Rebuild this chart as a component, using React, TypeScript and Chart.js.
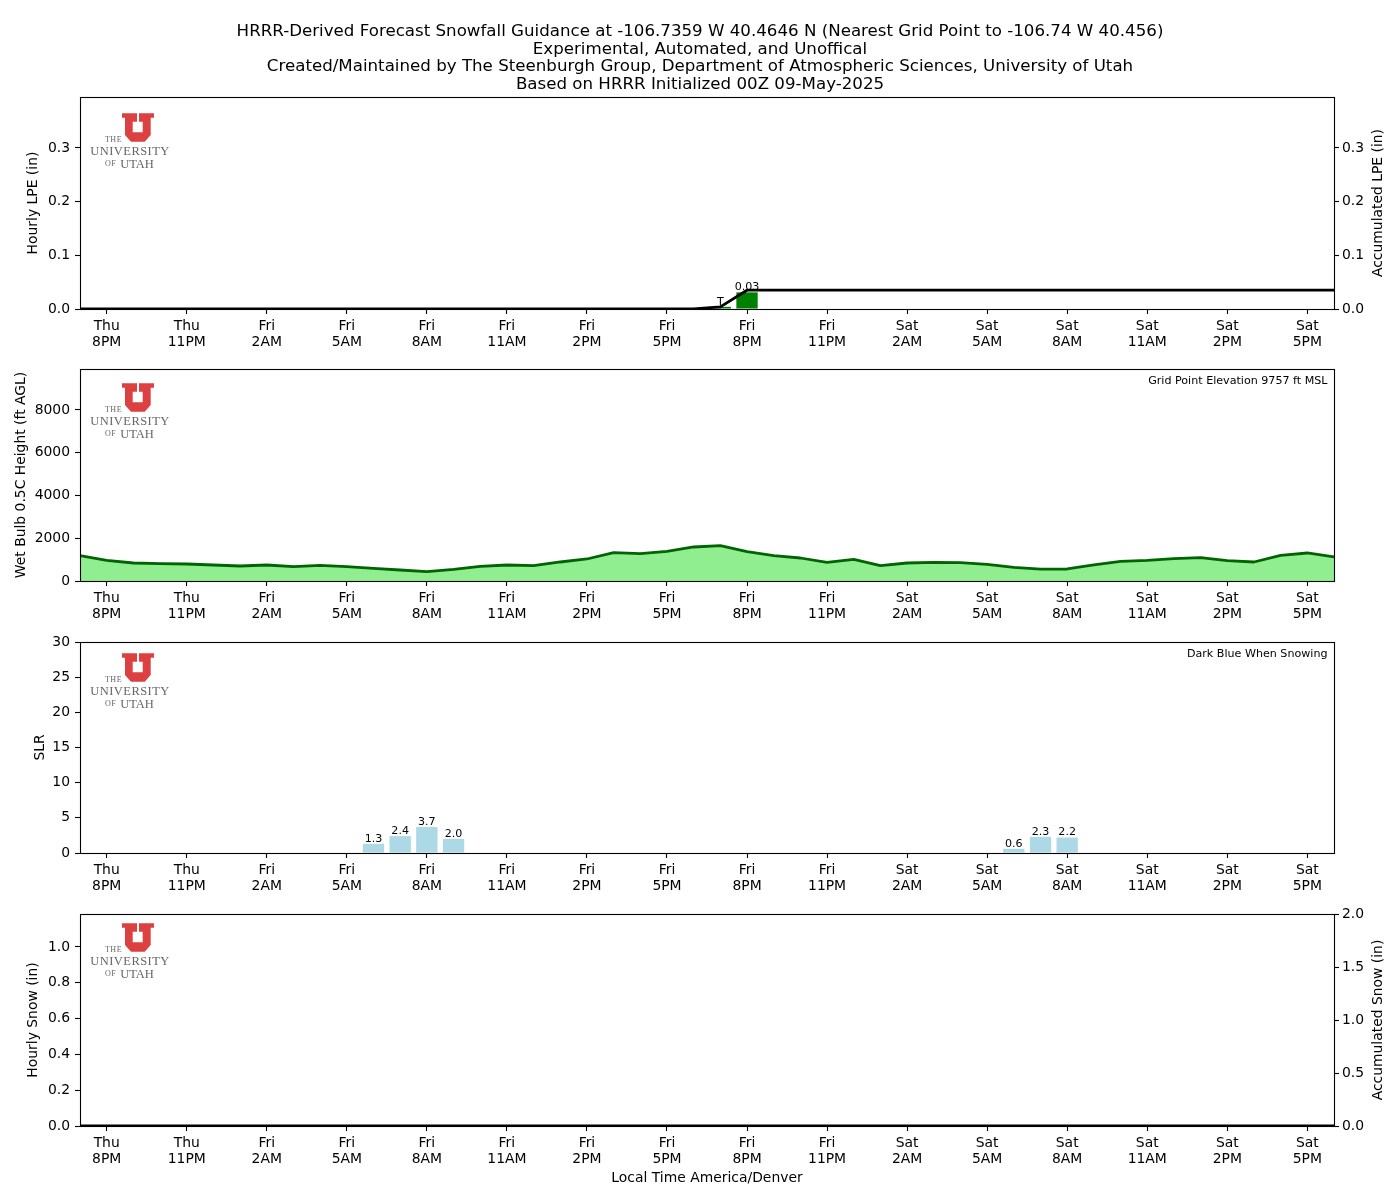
import React, { useEffect, useRef } from "react";
import { Chart, registerables } from "chart.js";

Chart.register(...registerables);

const hours = Array.from({ length: 48 }, (_, i) => i - 1);
const tickHours = [0, 3, 6, 9, 12, 15, 18, 21, 24, 27, 30, 33, 36, 39, 42, 45];
const tickDays = ["Thu", "Thu", "Fri", "Fri", "Fri", "Fri", "Fri", "Fri", "Fri", "Fri", "Sat", "Sat", "Sat", "Sat", "Sat", "Sat"];
const tickTimes = ["8PM", "11PM", "2AM", "5AM", "8AM", "11AM", "2PM", "5PM", "8PM", "11PM", "2AM", "5AM", "8AM", "11AM", "2PM", "5PM"];

const titleLines = [
  "HRRR-Derived Forecast Snowfall Guidance at -106.7359 W 40.4646 N (Nearest Grid Point to -106.74 W 40.456)",
  "Experimental, Automated, and Unoffical",
  "Created/Maintained by The Steenburgh Group, Department of Atmospheric Sciences, University of Utah",
  "Based on HRRR Initialized 00Z 09-May-2025",
];

const hourlyLpe = [0,0,0,0,0,0,0,0,0,0,0,0,0,0,0,0,0,0,0,0,0,0,0,0,0.004,0.031,0,0,0,0,0,0,0,0,0,0,0,0,0,0,0,0,0,0,0,0,0,0];
const accumLpe = [0,0,0,0,0,0,0,0,0,0,0,0,0,0,0,0,0,0,0,0,0,0,0,0,0.004,0.035,0.035,0.035,0.035,0.035,0.035,0.035,0.035,0.035,0.035,0.035,0.035,0.035,0.035,0.035,0.035,0.035,0.035,0.035,0.035,0.035,0.035,0.035];
const wetBulbHeight = [1185,967,842,811,795,749,702,749,670,733,670,590,515,440,546,686,749,717,889,1030,1326,1279,1385,1591,1654,1370,1190,1076,874,1014,718,842,874,858,780,640,560,562,749,920,967,1045,1092,952,889,1201,1310,1123];
const slr = [0,0,0,0,0,0,0,0,0,0,0,1.3,2.4,3.7,2.0,0,0,0,0,0,0,0,0,0,0,0,0,0,0,0,0,0,0,0,0,0.6,2.3,2.2,0,0,0,0,0,0,0,0,0,0];
const hourlySnow = new Array(48).fill(0) as number[];
const accumSnow = new Array(48).fill(0) as number[];

const lpeTicks = [0, 0.1, 0.2, 0.3];
const heightTicks = [0, 2000, 4000, 6000, 8000];
const slrTicks = [0, 5, 10, 15, 20, 25, 30];
const snowTicks = [0, 0.2, 0.4, 0.6, 0.8, 1.0];
const accumSnowTicks = [0, 0.5, 1.0, 1.5, 2.0];

const FONT = "'DejaVu Sans'";
const TICK_PX = 13.9;
const SMALL_PX = 11.11;
const NOTE_PX = 11.11;

const panelPlugin = {
  id: "panelExtras",
  afterDatasetsDraw(chart: any, _a: any, opts: any) {
    const { ctx, chartArea: ca } = chart;
    ctx.save();
    // bar value labels
    chart.data.datasets.forEach((ds: any, i: number) => {
      if (!ds.valueLabel) return;
      const meta = chart.getDatasetMeta(i);
      meta.data.forEach((el: any, j: number) => {
        const v = ds.data[j];
        if (!v) return;
        ctx.font = `${SMALL_PX}px ${FONT}`;
        ctx.fillStyle = "#000";
        ctx.textAlign = "center";
        ctx.textBaseline = "alphabetic";
        ctx.fillText(ds.valueLabel(v), el.x, el.y - 2.2);
      });
    });
    // frame
    ctx.strokeStyle = "#000";
    ctx.lineWidth = 1.1;
    const fl = Math.round(ca.left) + 0.5;
    const ft = Math.round(ca.top) + 0.5;
    const fr = Math.round(ca.right) + 0.5;
    const fb = Math.round(ca.bottom) + 0.5;
    ctx.strokeRect(fl, ft, fr - fl, fb - ft);
    // corner note
    if (opts.note) {
      ctx.font = `${NOTE_PX}px ${FONT}`;
      ctx.fillStyle = "#000";
      ctx.textAlign = "right";
      ctx.textBaseline = "middle";
      ctx.fillText(opts.note, ca.right - 6.5, ca.top + 12);
    }
    // right axis label, reads bottom to top
    if (opts.rightTitle) {
      ctx.save();
      ctx.translate(1378, (ca.top + ca.bottom) / 2);
      ctx.rotate(-Math.PI / 2);
      ctx.font = `${TICK_PX}px ${FONT}`;
      ctx.fillStyle = "#000";
      ctx.textAlign = "center";
      ctx.textBaseline = "middle";
      ctx.fillText(opts.rightTitle, 0, 0);
      ctx.restore();
    }
    // University of Utah logo
    const ox = ca.left;
    const oy = ca.top + (opts.logoShift || 0);
    ctx.fillStyle = "#DC4040";
    ctx.beginPath();
    const P = [
      [42, 16.3], [57, 16.3], [57, 24.7], [52.7, 24.7], [52.7, 35.3], [62.7, 35.3], [62.7, 24.7], [59, 24.7], [59, 16.3],
      [74, 16.3], [74, 20.7], [70.7, 20.7], [70.7, 38], [64.7, 44.7], [51, 44.7], [45, 38], [45, 20.7], [42, 20.7],
    ];
    P.forEach(([x, y], k) => (k ? ctx.lineTo(ox + x, oy + y) : ctx.moveTo(ox + x, oy + y)));
    ctx.closePath();
    ctx.fill();
    ctx.fillStyle = "#666";
    ctx.textAlign = "center";
    ctx.textBaseline = "middle";
    ctx.font = "8px 'Liberation Serif'";
    (ctx as any).letterSpacing = "0.5px";
    ctx.fillText("THE", ox + 33.5, oy + 42.7);
    ctx.font = "12.5px 'Liberation Serif'";
    (ctx as any).letterSpacing = "0.45px";
    ctx.fillText("UNIVERSITY", ox + 50, oy + 55);
    ctx.font = "8px 'Liberation Serif'";
    (ctx as any).letterSpacing = "0.3px";
    ctx.fillText("OF", ox + 30.5, oy + 67);
    ctx.font = "12.5px 'Liberation Serif'";
    (ctx as any).letterSpacing = "0px";
    ctx.fillText("UTAH", ox + 57, oy + 68);
    ctx.restore();
  },
};

function xScale(bottomSpace: number, title?: string) {
  return {
    type: "linear",
    min: -1,
    max: 46,
    offset: false,
    afterBuildTicks: (a: any) => { a.ticks = tickHours.map((value) => ({ value })); },
    afterFit: (a: any) => { a.height = bottomSpace; },
    grid: { offset: false, drawOnChartArea: false, drawTicks: true, tickLength: 5, color: "#000", tickWidth: 1.1 },
    border: { display: false },
    title: title
      ? { display: true, text: title, color: "#000", font: { family: FONT, size: TICK_PX, lineHeight: 1.15 }, padding: { top: 0, bottom: 4 } }
      : { display: false },
    ticks: {
      autoSkip: false,
      maxRotation: 0,
      minRotation: 0,
      padding: 4,
      color: "#000",
      font: { family: FONT, size: TICK_PX, lineHeight: 1.165 },
      callback: (_v: any, i: number) => [tickDays[i], tickTimes[i]],
    },
  };
}

function yScale(opts: any) {
  const { position, max, ticks, fmt, width, title, titlePad } = opts;
  return {
    type: "linear",
    position,
    min: 0,
    max,
    afterBuildTicks: (a: any) => { a.ticks = ticks.map((value: number) => ({ value })); },
    afterFit: (a: any) => { a.width = width; },
    grid: { drawOnChartArea: false, drawTicks: true, tickLength: 5, color: "#000", tickWidth: 1.1 },
    border: { display: false },
    title: title
      ? { display: true, text: title, color: "#000", font: { family: FONT, size: TICK_PX, lineHeight: 1.2 }, padding: { top: titlePad || 0, bottom: 0 } }
      : { display: false },
    ticks: {
      autoSkip: false,
      padding: position === "left" ? 5 : 3,
      color: "#000",
      font: { family: FONT, size: TICK_PX },
      callback: (v: number) => fmt(v),
    },
  };
}

const base = (extra: any) => ({
  responsive: false,
  animation: false,
  devicePixelRatio: 1,
  events: [],
  ...extra,
});

const bar = (data: number[], color: string, yAxisID: string, valueLabel?: (v: number) => string) => ({
  type: "bar",
  data,
  yAxisID,
  backgroundColor: color,
  borderWidth: 0,
  categoryPercentage: 1,
  barPercentage: 0.8,
  order: 2,
  valueLabel,
  clip: 0,
});

const line = (data: number[], color: string, yAxisID: string, fill?: string) => ({
  type: "line",
  data,
  yAxisID,
  borderColor: color,
  borderWidth: 2.78,
  pointRadius: 0,
  tension: 0,
  fill: fill ? "origin" : false,
  backgroundColor: fill,
  order: 1,
  clip: 0,
  borderJoinStyle: "round",
});

const fix1 = (v: number) => v.toFixed(1);
const fix0 = (v: number) => String(v);

function configs(): any[] {
  return [
    {
      type: "bar",
      data: {
        labels: hours,
        datasets: [
          bar(hourlyLpe, "#008000", "y", (v) => (v < 0.01 ? "T" : v.toFixed(2))),
          line(accumLpe, "#000000", "yR"),
        ],
      },
      options: base({
        layout: { padding: { left: 0, right: 0, top: 23.3, bottom: 0 } },
        scales: {
          x: xScale(40),
          y: yScale({ position: "left", max: 0.395, ticks: lpeTicks, fmt: fix1, width: 80, title: "Hourly LPE (in)", titlePad: 24.7 }),
          yR: yScale({ position: "right", max: 0.395, ticks: lpeTicks, fmt: fix1, width: 66 }),
        },
        plugins: {
          legend: { display: false },
          tooltip: { enabled: false },
          title: {
            display: true,
            text: titleLines,
            color: "#000",
            font: { family: FONT, size: 16.67, weight: "normal", lineHeight: 1.044 },
            padding: { top: 0, bottom: 4.1 },
          },
          panelExtras: { rightTitle: "Accumulated LPE (in)", logoShift: 0 },
        },
      }),
    },
    {
      type: "line",
      data: { labels: hours, datasets: [line(wetBulbHeight, "#006400", "y", "#90EE90")] },
      options: base({
        layout: { padding: { left: 12.7, right: 66, top: 20, bottom: 0 } },
        scales: {
          x: xScale(41),
          y: yScale({ position: "left", max: 9918, ticks: heightTicks, fmt: fix0, width: 67.3, title: "Wet Bulb 0.5C Height (ft AGL)" }),
        },
        plugins: {
          legend: { display: false },
          tooltip: { enabled: false },
          panelExtras: { note: "Grid Point Elevation 9757 ft MSL", logoShift: -2 },
        },
      }),
    },
    {
      type: "bar",
      data: { labels: hours, datasets: [bar(slr, "#ADD8E6", "y", (v) => v.toFixed(1))] },
      options: base({
        layout: { padding: { left: 31.7, right: 66, top: 20, bottom: 0 } },
        scales: {
          x: xScale(41),
          y: yScale({ position: "left", max: 30, ticks: slrTicks, fmt: fix0, width: 48.3, title: "SLR" }),
        },
        plugins: {
          legend: { display: false },
          tooltip: { enabled: false },
          panelExtras: { note: "Dark Blue When Snowing", logoShift: -5 },
        },
      }),
    },
    {
      type: "bar",
      data: {
        labels: hours,
        datasets: [bar(hourlySnow, "#00008B", "y"), line(accumSnow, "#000000", "yR")],
      },
      options: base({
        layout: { padding: { left: 24.7, right: 0, top: 20, bottom: 10 } },
        scales: {
          x: xScale(64, "Local Time America/Denver"),
          y: yScale({ position: "left", max: 1.184, ticks: snowTicks, fmt: fix1, width: 55.3, title: "Hourly Snow (in)" }),
          yR: yScale({ position: "right", max: 2, ticks: accumSnowTicks, fmt: fix1, width: 66 }),
        },
        plugins: {
          legend: { display: false },
          tooltip: { enabled: false },
          panelExtras: { rightTitle: "Accumulated Snow (in)", logoShift: -7 },
        },
      }),
    },
  ];
}

const slots = [
  { top: 0, height: 349 },
  { top: 349, height: 273 },
  { top: 622, height: 272 },
  { top: 894, height: 306 },
];

export default function App() {
  const refs = useRef<(HTMLCanvasElement | null)[]>([]);
  useEffect(() => {
    const cfg = configs();
    const charts = refs.current.map((c, i) => new Chart(c as any, { ...cfg[i], plugins: [panelPlugin] }));
    return () => charts.forEach((c) => c.destroy());
  }, []);
  return (
    <div style={{ position: "absolute", left: 0, top: 0, width: 1400, height: 1200, background: "#fff" }}>
      {slots.map((s, i) => (
        <canvas
          key={i}
          ref={(el) => { refs.current[i] = el; }}
          width={1400}
          height={s.height}
          style={{ position: "absolute", left: 0, top: s.top, width: 1400, height: s.height, display: "block" }}
        />
      ))}
    </div>
  );
}
